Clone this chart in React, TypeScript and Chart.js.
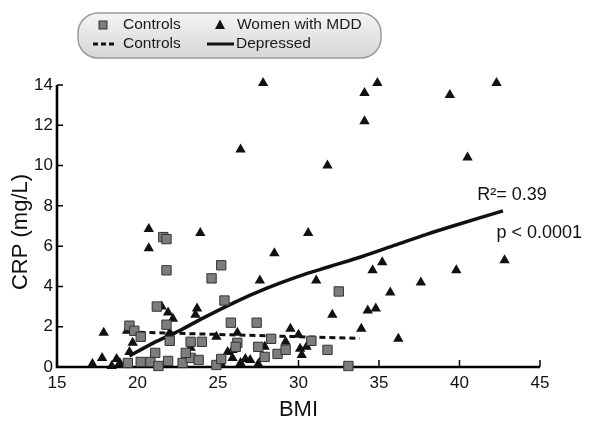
import React, { useEffect, useRef } from 'react';
import { Chart, registerables } from 'chart.js';

Chart.register(...registerables);

// ---- Data ----
const controlsBMI = [21.6, 21.8, 21.8, 25.2, 24.6, 21.2, 25.4, 21.8, 19.5, 19.8, 20.2, 25.8, 27.4, 22.0, 23.3, 24.0, 26.2, 27.5, 28.3, 28.7, 21.1, 19.4, 20.2, 20.8, 21.3, 21.9, 22.8, 23.3, 23.8, 24.9, 25.2, 32.5, 30.8, 29.2, 31.8, 27.9, 33.1, 23.0, 26.1];
const controlsCRP = [6.45, 6.35, 4.8, 5.05, 4.4, 3.0, 3.3, 2.1, 2.05, 1.8, 1.5, 2.2, 2.2, 1.3, 1.25, 1.25, 1.2, 1.0, 1.4, 0.65, 0.7, 0.2, 0.25, 0.25, 0.05, 0.3, 0.2, 0.45, 0.35, 0.1, 0.4, 3.75, 1.3, 0.85, 0.85, 0.5, 0.05, 0.7, 1.0];

const mddBMI = [27.8, 26.4, 34.1, 34.9, 34.1, 31.8, 39.4, 42.3, 40.5, 30.6, 28.5, 27.6, 31.1, 34.6, 35.2, 39.8, 42.8, 37.6, 35.7, 34.3, 34.8, 32.1, 33.9, 36.2, 29.5, 30.0, 30.2, 30.5, 30.1, 20.7, 20.7, 23.9, 17.9, 17.8, 17.2, 18.7, 18.9, 19.35, 19.7, 19.5, 21.5, 21.9, 22.2, 23.7, 23.6, 22.0, 24.9, 26.2, 25.6, 26.7, 27.0, 27.8, 27.9, 25.9, 25.9, 29.2, 23.3, 25.2, 26.4, 27.5, 19.2, 18.4];
const mddCRP = [14.1, 10.8, 13.6, 14.1, 12.2, 10.0, 13.5, 14.1, 10.4, 6.65, 5.65, 4.3, 4.3, 4.8, 5.2, 4.8, 5.3, 4.2, 3.7, 2.8, 2.9, 2.6, 1.9, 1.4, 1.9, 1.6, 0.6, 1.0, 0.9, 6.85, 5.9, 6.65, 1.7, 0.45, 0.15, 0.4, 0.2, 1.8, 1.2, 0.75, 3.0, 2.7, 2.4, 2.9, 2.6, 1.7, 1.5, 1.7, 0.75, 0.4, 0.35, 0.5, 1.0, 0.85, 0.45, 1.25, 0.95, 0.15, 0.2, 0.15, 0.1, 0.05];

const controlsFitBMI = [19.5, 33.8];
const controlsFitCRP = [1.74, 1.42];

const depressedFitBMI = [19.5, 21, 22.6, 24, 26, 28, 30, 32, 34, 36, 38, 40, 42.7];
const depressedFitCRP = [0.55, 1.2, 1.8, 2.4, 3.2, 3.9, 4.5, 5.0, 5.5, 6.05, 6.6, 7.1, 7.75];

const xTicks = [15, 20, 25, 30, 35, 40, 45];
const yTicks = [0, 2, 4, 6, 8, 10, 12, 14];

const seriesLabels = ['Controls', 'Women with MDD', 'Controls', 'Depressed'];
const xTitle = 'BMI';
const yTitle = 'CRP (mg/L)';
const noteTexts = ['R²= 0.39', 'p < 0.0001'];
const noteBMI = [41.1, 42.3];
const noteCRP = [8.3, 6.4];

const FONT = '"Liberation Sans", Arial, Helvetica, sans-serif';

const toPoints = (xs: number[], ys: number[]) => xs.map((x, i) => ({ x, y: ys[i] }));

const decorPlugin = {
  id: 'decor',
  beforeDatasetsDraw(chart: any) {
    const { ctx, chartArea, scales } = chart;
    const xs = scales.x;
    const ys = scales.y;
    ctx.save();
    ctx.strokeStyle = '#000';
    ctx.lineWidth = 1.5;
    // inward tick marks
    ctx.beginPath();
    yTicks.forEach((v) => {
      const py = ys.getPixelForValue(v);
      if (v === 0) return;
      ctx.moveTo(chartArea.left, py);
      ctx.lineTo(chartArea.left + 6, py);
    });
    xTicks.forEach((v) => {
      const px = xs.getPixelForValue(v);
      if (v === 15) return;
      ctx.moveTo(px, chartArea.bottom);
      ctx.lineTo(px, chartArea.bottom - 7);
    });
    ctx.stroke();
    // axis lines
    ctx.lineWidth = 2.6;
    ctx.beginPath();
    ctx.moveTo(chartArea.left, ys.getPixelForValue(14));
    ctx.lineTo(chartArea.left, chartArea.bottom);
    ctx.lineTo(xs.getPixelForValue(45), chartArea.bottom);
    ctx.stroke();
    ctx.restore();
  },
  afterDraw(chart: any) {
    const { ctx, scales, chartArea } = chart;
    const xs = scales.x;
    const ys = scales.y;
    ctx.save();
    // axis titles
    ctx.fillStyle = '#111';
    ctx.font = `22px ${FONT}`;
    ctx.textAlign = 'center';
    ctx.textBaseline = 'middle';
    ctx.fillText(xTitle, (chartArea.left + chartArea.right) / 2 + 0, 410);
    ctx.save();
    ctx.translate(21, 232);
    ctx.rotate(-Math.PI / 2);
    ctx.fillText(yTitle, 0, 0);
    ctx.restore();

    // annotations
    ctx.font = `18px ${FONT}`;
    ctx.textAlign = 'left';
    ctx.textBaseline = 'alphabetic';
    noteTexts.forEach((t, i) => {
      ctx.fillText(t, xs.getPixelForValue(noteBMI[i]), ys.getPixelForValue(noteCRP[i]));
    });

    // legend box
    const bx = 78, by = 13, bw = 303, bh = 45, r = 20;
    ctx.beginPath();
    ctx.moveTo(bx + r, by);
    ctx.lineTo(bx + bw - r, by);
    ctx.arcTo(bx + bw, by, bx + bw, by + r, r);
    ctx.lineTo(bx + bw, by + bh - r);
    ctx.arcTo(bx + bw, by + bh, bx + bw - r, by + bh, r);
    ctx.lineTo(bx + r, by + bh);
    ctx.arcTo(bx, by + bh, bx, by + bh - r, r);
    ctx.lineTo(bx, by + r);
    ctx.arcTo(bx, by, bx + r, by, r);
    ctx.closePath();
    const g = ctx.createLinearGradient(0, by, 0, by + bh);
    g.addColorStop(0, '#f4f4f4');
    g.addColorStop(1, '#d6d6d6');
    ctx.fillStyle = g;
    ctx.fill();
    ctx.strokeStyle = '#9a9a9a';
    ctx.lineWidth = 1.5;
    ctx.stroke();

    const ds = chart.data.datasets;
    ctx.font = `15.5px ${FONT}`;
    ctx.fillStyle = '#1a1a1a';
    ctx.textBaseline = 'middle';
    ctx.textAlign = 'left';
    // row 1: square marker
    ctx.fillStyle = ds[0].backgroundColor;
    ctx.strokeStyle = ds[0].borderColor;
    ctx.lineWidth = 1;
    ctx.fillRect(99, 21, 8, 8);
    ctx.strokeRect(99, 21, 8, 8);
    // triangle marker
    ctx.fillStyle = ds[1].backgroundColor;
    ctx.beginPath();
    ctx.moveTo(220, 19.5);
    ctx.lineTo(225, 29);
    ctx.lineTo(215, 29);
    ctx.closePath();
    ctx.fill();
    // row 2: dashed line
    ctx.strokeStyle = '#111';
    ctx.lineWidth = 3;
    ctx.setLineDash([5, 3]);
    ctx.beginPath();
    ctx.moveTo(93, 44);
    ctx.lineTo(116, 44);
    ctx.stroke();
    ctx.setLineDash([]);
    ctx.beginPath();
    ctx.moveTo(207, 44);
    ctx.lineTo(234, 44);
    ctx.stroke();
    ctx.fillStyle = '#1a1a1a';
    ctx.fillText(ds[0].label, 123, 25);
    ctx.fillText(ds[1].label, 237, 25);
    ctx.fillText(ds[2].label, 123, 44);
    ctx.fillText(ds[3].label, 236, 44);
    ctx.restore();
  },
};

export default function App() {
  const canvasRef = useRef<HTMLCanvasElement | null>(null);

  useEffect(() => {
    const canvas = canvasRef.current;
    if (!canvas) return;
    const chart = new Chart(canvas, {
      type: 'scatter',
      data: {
        datasets: [
          {
            label: seriesLabels[0],
            data: toPoints(controlsBMI, controlsCRP),
            pointStyle: 'rect',
            pointRadius: 6.6,
            backgroundColor: '#7d7d7d',
            borderColor: '#333',
            borderWidth: 1,
            order: 1,
            clip: false,
          },
          {
            label: seriesLabels[1],
            data: toPoints(mddBMI, mddCRP),
            pointStyle: 'triangle',
            pointRadius: 6,
            backgroundColor: '#111',
            borderColor: '#111',
            borderWidth: 0,
            order: 2,
            clip: false,
          },
          {
            label: seriesLabels[2],
            data: toPoints(controlsFitBMI, controlsFitCRP),
            showLine: true,
            pointRadius: 0,
            borderColor: '#111',
            borderWidth: 3,
            borderDash: [6, 4],
            order: 4,
          },
          {
            label: seriesLabels[3],
            data: toPoints(depressedFitBMI, depressedFitCRP),
            showLine: true,
            pointRadius: 0,
            borderColor: '#111',
            borderWidth: 3.5,
            tension: 0.3,
            order: 3,
          },
        ] as any,
      },
      options: {
        animation: false,
        responsive: false,
        events: [],
        layout: { padding: { left: 0, top: 85, right: 60, bottom: 0 } },
        plugins: { legend: { display: false }, tooltip: { enabled: false } },
        scales: {
          x: {
            type: 'linear',
            min: 15,
            max: 45,
            afterBuildTicks: (s: any) => { s.ticks = xTicks.map((v) => ({ value: v })); },
            afterFit: (s: any) => { s.height = 59; },
            grid: { display: false, drawTicks: false },
            border: { display: false },
            ticks: { color: '#111', font: { family: FONT, size: 17 }, padding: 6 },
          },
          y: {
            type: 'linear',
            min: 0,
            max: 14,
            afterBuildTicks: (s: any) => { s.ticks = yTicks.map((v) => ({ value: v })); },
            afterFit: (s: any) => { s.width = 57; },
            grid: { display: false, drawTicks: false },
            border: { display: false },
            ticks: { color: '#111', font: { family: FONT, size: 17 }, padding: 4 },
          },
        },
      } as any,
      plugins: [decorPlugin],
    });
    return () => chart.destroy();
  }, []);

  return (
    <div style={{ position: 'absolute', left: 0, top: 0, width: 600, height: 426, background: '#fff' }}>
      <canvas ref={canvasRef} width={600} height={426} style={{ display: 'block' }} />
    </div>
  );
}
